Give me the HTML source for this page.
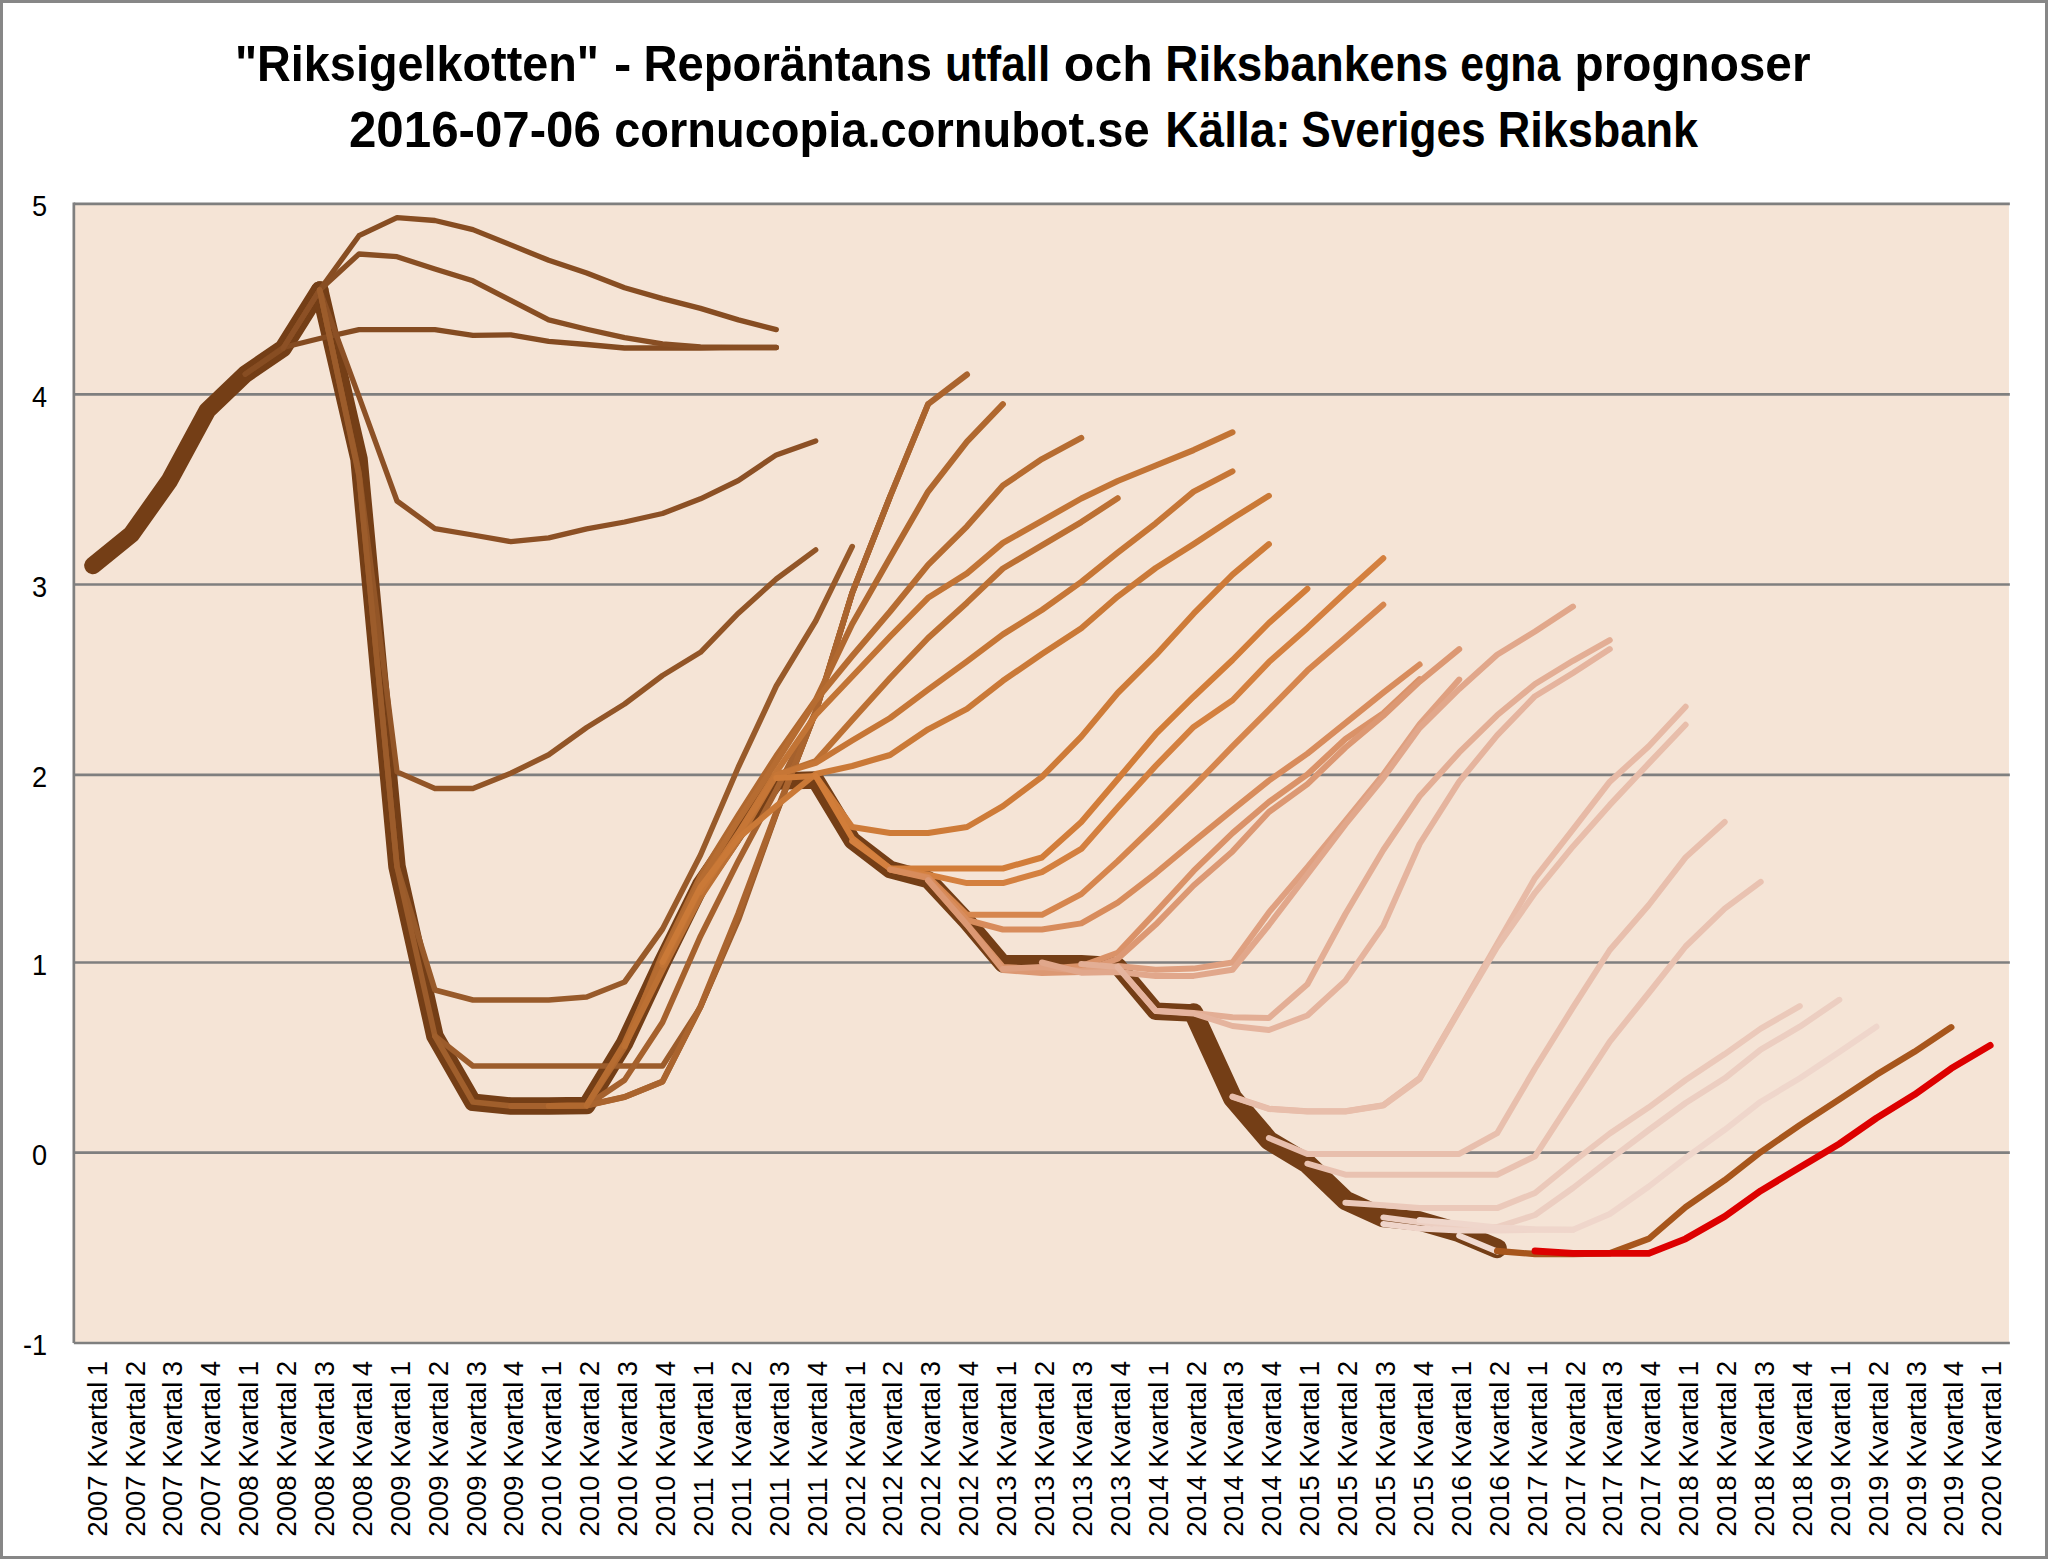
<!DOCTYPE html>
<html><head><meta charset="utf-8"><title>Riksigelkotten</title>
<style>html,body{margin:0;padding:0;background:#fff;}svg{display:block;}text{font-family:"Liberation Sans",sans-serif;}</style>
</head><body>
<svg width="2048" height="1559" viewBox="0 0 2048 1559">
<rect x="0" y="0" width="2048" height="1559" fill="#ffffff"/>
<rect x="1.5" y="1.5" width="2045" height="1556" fill="none" stroke="#878787" stroke-width="3"/>
<rect x="73.85" y="203.85" width="1935.1000000000001" height="1139.15" fill="#F5E4D6"/>
<line x1="73.85" y1="203.85" x2="2009.85" y2="203.85" stroke="#7F7F7F" stroke-width="2.7"/>
<line x1="73.85" y1="394.45" x2="2009.85" y2="394.45" stroke="#7F7F7F" stroke-width="2.7"/>
<line x1="73.85" y1="584.5" x2="2009.85" y2="584.5" stroke="#7F7F7F" stroke-width="2.7"/>
<line x1="73.85" y1="774.9" x2="2009.85" y2="774.9" stroke="#7F7F7F" stroke-width="2.7"/>
<line x1="73.85" y1="962.5" x2="2009.85" y2="962.5" stroke="#7F7F7F" stroke-width="2.7"/>
<line x1="73.85" y1="1152.6" x2="2009.85" y2="1152.6" stroke="#7F7F7F" stroke-width="2.7"/>
<line x1="73.85" y1="1343.0" x2="2009.85" y2="1343.0" stroke="#7F7F7F" stroke-width="2.7"/>
<line x1="73.85" y1="202.5" x2="73.85" y2="1343.0" stroke="#7F7F7F" stroke-width="2.7"/>
<g fill="none" stroke-linecap="round" stroke-linejoin="round">
<polyline points="92.9,565.5 131.4,534.3 169.4,480.6 207.3,410.5 245.2,374.2 283.2,348.2 319.7,290.0" stroke="#743E16" stroke-width="17.5"/>
<polyline points="319.7,290.0 359.0,459.0 397.0,866.5 434.9,1036.0 472.9,1102.3 510.8,1106.0 548.7,1106.0 586.7,1105.5 624.6,1043.0 662.5,962.0 700.5,885.0 738.4,830.0 776.3,781.0 815.7,780.0 852.2,840.5 890.1,869.5 928.1,879.6 967.0,921.3 1002.9,963.8 1041.9,963.8 1081.3,963.8 1117.7,966.0 1155.7,1011.3 1193.6,1013.0" stroke="#743E16" stroke-width="17.5"/>
<polyline points="1193.6,1013.0 1232.5,1097.8 1268.9,1140.5 1307.4,1163.7 1345.4,1200.3 1383.3,1217.6 1419.6,1221.0 1459.2,1232.5 1497.1,1248.5" stroke="#743E16" stroke-width="19.5"/>
<polyline points="245.2,374.2 283.2,347.5 319.7,338.5 359.0,329.6 397.0,329.6 434.9,329.6 472.9,335.3 510.8,334.8 548.7,341.4 586.7,344.5 624.6,348.0 662.5,348.0 700.5,348.0 738.4,347.5 776.3,347.5" stroke="#844B21" stroke-width="5.3"/>
<polyline points="245.2,374.2 283.2,348.2 319.7,290.0 359.0,235.7 397.0,217.6 434.9,220.5 472.9,229.6 510.8,244.9 548.7,260.3 586.7,273.0 624.6,287.7 662.5,298.6 700.5,308.4 738.4,319.9 776.3,329.6" stroke="#874D22" stroke-width="5.3"/>
<polyline points="283.2,348.2 319.7,290.0 359.0,254.0 397.0,256.7 434.9,268.9 472.9,280.8 510.8,300.4 548.7,319.9 586.7,329.2 624.6,337.7 662.5,343.8 700.5,347.0 738.4,347.5 776.3,347.5" stroke="#884E23" stroke-width="5.3"/>
<polyline points="283.2,348.2 319.7,290.0 359.0,396.6 397.0,501.0 434.9,528.6 472.9,535.0 510.8,541.6 548.7,537.9 586.7,528.9 624.6,522.0 662.5,513.5 700.5,498.8 738.4,480.5 776.3,454.9 815.7,441.0" stroke="#8C5025" stroke-width="5.3"/>
<polyline points="319.7,290.0 359.0,472.0 397.0,771.9 434.9,788.5 472.9,788.5 510.8,773.2 548.7,754.8 586.7,727.5 624.6,704.0 662.5,675.5 700.5,652.3 738.4,613.2 776.3,579.0 815.7,549.8" stroke="#925527" stroke-width="5.4"/>
<polyline points="319.7,290.0 359.0,474.0 397.0,866.5 434.9,990.0 472.9,1000.0 510.8,1000.0 548.7,1000.0 586.7,997.0 624.6,982.0 662.5,929.0 700.5,855.0 738.4,767.0 776.3,686.0 815.7,621.0 852.2,546.6" stroke="#985A2A" stroke-width="5.6"/>
<polyline points="319.7,290.0 359.0,476.0 397.0,866.5 434.9,1036.0 472.9,1066.0 510.8,1066.0 548.7,1066.0 586.7,1066.0 624.6,1066.0 662.5,1066.0 700.5,1007.0 738.4,920.0 776.3,814.0 815.7,712.0 852.2,593.0" stroke="#9C5C2B" stroke-width="5.6"/>
<polyline points="434.9,1036.0 472.9,1102.0 510.8,1106.0 548.7,1106.0 586.7,1105.5 624.6,1097.0 662.5,1081.5 700.5,1007.0 738.4,917.0 776.3,813.0 815.7,712.0 852.2,593.0 890.1,496.5" stroke="#A05F2C" stroke-width="5.7"/>
<polyline points="510.8,1106.0 548.7,1106.0 586.7,1105.5 624.6,1080.0 662.5,1022.4 700.5,936.2 738.4,860.8 776.3,790.0 815.7,712.0 852.2,593.0 890.1,496.5 928.1,404.2" stroke="#A5612D" stroke-width="5.8"/>
<polyline points="548.7,1106.0 586.7,1105.5 624.6,1097.0 662.5,1081.7 700.5,1006.3 738.4,913.4 776.3,812.0 815.7,711.6 852.2,592.9 890.1,496.5 928.1,404.2 967.0,374.5" stroke="#AA642E" stroke-width="6.0"/>
<polyline points="548.7,1106.0 586.7,1105.5 624.6,1047.0 662.5,954.0 700.5,876.0 738.4,815.0 776.3,756.0 815.7,700.0 852.2,624.0 890.1,557.5 928.1,491.6 967.0,441.6 1002.9,404.2" stroke="#B0682F" stroke-width="6.0"/>
<polyline points="586.7,1105.5 624.6,1043.0 662.5,958.0 700.5,881.0 738.4,820.0 776.3,762.0 815.7,700.5 852.2,656.0 890.1,611.5 928.1,564.8 967.0,526.3 1002.9,485.5 1041.9,459.1 1081.3,437.9" stroke="#B66C31" stroke-width="6.0"/>
<polyline points="624.6,1046.0 662.5,970.0 700.5,897.0 738.4,840.0 776.3,775.0 815.7,761.0 852.2,720.0 890.1,678.0 928.1,638.0 967.0,602.7 1002.9,568.5 1041.9,545.3 1081.3,522.1 1117.7,498.2" stroke="#BC7033" stroke-width="6.0"/>
<polyline points="662.5,965.0 700.5,889.0 738.4,833.0 776.3,772.0 815.7,715.0 852.2,676.5 890.1,636.5 928.1,597.8 967.0,573.4 1002.9,542.9 1041.9,520.9 1081.3,498.5 1117.7,481.0 1155.7,465.5 1193.6,450.1 1232.5,432.3" stroke="#C27435" stroke-width="6.0"/>
<polyline points="700.5,892.0 738.4,834.0 776.3,775.0 815.7,763.0 852.2,740.5 890.1,718.0 928.1,689.7 967.0,661.3 1002.9,634.4 1041.9,610.0 1081.3,581.9 1117.7,552.6 1155.7,523.3 1193.6,491.6 1232.5,471.3" stroke="#C67636" stroke-width="6.0"/>
<polyline points="662.5,962.0 700.5,887.0 738.4,838.0 776.3,806.0 815.7,774.0 852.2,766.0 890.1,755.0 928.1,729.3 967.0,708.9 1002.9,680.8 1041.9,654.0 1081.3,628.3 1117.7,596.6 1155.7,568.0 1193.6,544.1 1232.5,518.5 1268.9,495.8" stroke="#CA7937" stroke-width="6.0"/>
<polyline points="776.3,778.0 815.7,776.0 852.2,827.0 890.1,833.0 928.1,833.0 967.0,827.0 1002.9,806.2 1041.9,776.9 1081.3,736.6 1117.7,693.0 1155.7,655.2 1193.6,613.7 1232.5,574.6 1268.9,544.1" stroke="#CE7B38" stroke-width="6.0"/>
<polyline points="815.7,776.0 852.2,838.0 890.1,868.5 928.1,868.5 967.0,868.5 1002.9,868.5 1041.9,857.5 1081.3,822.0 1117.7,779.3 1155.7,734.2 1193.6,696.7 1232.5,660.0 1268.9,623.0 1307.4,588.8" stroke="#D27D39" stroke-width="6.0"/>
<polyline points="852.2,841.0 890.1,868.5 928.1,874.6 967.0,883.1 1002.9,883.1 1041.9,872.1 1081.3,848.9 1117.7,807.4 1155.7,765.9 1193.6,726.9 1232.5,700.3 1268.9,662.1 1307.4,627.9 1345.4,592.5 1383.3,558.3" stroke="#D4803F" stroke-width="6.0"/>
<polyline points="890.1,869.5 928.1,877.0 967.0,914.8 1002.9,914.8 1041.9,914.8 1081.3,894.1 1117.7,861.1 1155.7,824.5 1193.6,786.7 1232.5,746.4 1268.9,709.8 1307.4,670.6 1345.4,637.7 1383.3,604.7" stroke="#D6864E" stroke-width="6.0"/>
<polyline points="890.1,869.5 928.1,878.0 967.0,920.0 1002.9,929.5 1041.9,929.5 1081.3,923.4 1117.7,902.6 1155.7,873.3 1193.6,841.6 1232.5,809.9 1268.9,780.6 1307.4,753.6 1345.4,723.1 1383.3,692.6 1419.6,664.5" stroke="#D88C5C" stroke-width="6.0"/>
<polyline points="928.1,880.0 967.0,924.5 1002.9,967.0 1041.9,969.0 1081.3,966.0 1117.7,952.7 1155.7,912.4 1193.6,870.9 1232.5,833.1 1268.9,802.0 1307.4,774.4 1345.4,739.0 1383.3,713.3 1419.6,679.2" stroke="#DA9268" stroke-width="6.0"/>
<polyline points="928.1,880.5 967.0,925.0 1002.9,970.0 1041.9,973.0 1081.3,972.0 1117.7,958.8 1155.7,924.6 1193.6,885.5 1232.5,851.4 1268.9,812.0 1307.4,784.1 1345.4,747.5 1383.3,715.8 1419.6,681.6 1459.2,649.1" stroke="#DC9873" stroke-width="6.0"/>
<polyline points="1002.9,969.0 1041.9,967.0 1081.3,971.0 1117.7,966.1 1155.7,969.8 1193.6,968.6 1232.5,962.5 1268.9,912.4 1307.4,867.1 1345.4,820.8 1383.3,774.4 1419.6,724.3 1459.2,679.6" stroke="#DFA080" stroke-width="6.0"/>
<polyline points="1041.9,962.5 1081.3,972.7 1117.7,972.0 1155.7,975.9 1193.6,975.9 1232.5,969.8 1268.9,925.0 1307.4,874.5 1345.4,824.4 1383.3,778.0 1419.6,728.0 1459.2,688.9 1497.1,654.7 1535.0,631.5 1573.0,606.6" stroke="#E1A78B" stroke-width="6.0"/>
<polyline points="1081.3,964.0 1117.7,966.9 1155.7,1010.8 1193.6,1013.0 1232.5,1017.3 1268.9,1018.0 1307.4,984.3 1345.4,914.0 1383.3,850.0 1419.6,796.3 1459.2,752.4 1497.1,715.3 1535.0,684.0 1573.0,660.8 1609.8,640.1" stroke="#E3AE95" stroke-width="6.0"/>
<polyline points="1117.7,967.0 1155.7,1011.0 1193.6,1013.5 1232.5,1026.0 1268.9,1030.0 1307.4,1015.5 1345.4,980.6 1383.3,926.0 1419.6,844.0 1459.2,781.7 1497.1,735.3 1535.0,696.2 1573.0,673.0 1609.8,649.1" stroke="#E5B49E" stroke-width="6.0"/>
<polyline points="1232.5,1096.5 1268.9,1108.7 1307.4,1111.2 1345.4,1111.2 1383.3,1105.1 1419.6,1078.2 1459.2,1009.9 1497.1,944.0 1535.0,878.1 1573.0,829.3 1609.8,781.7 1648.8,746.3 1685.6,706.7" stroke="#E7BAA6" stroke-width="6.0"/>
<polyline points="1232.5,1097.0 1268.9,1109.0 1307.4,1111.5 1345.4,1111.5 1383.3,1105.5 1419.6,1079.0 1459.2,1011.0 1497.1,947.0 1535.0,892.8 1573.0,846.4 1609.8,804.9 1648.8,763.4 1685.6,724.8" stroke="#E8BEAB" stroke-width="6.0"/>
<polyline points="1268.9,1138.0 1307.4,1153.9 1345.4,1153.9 1383.3,1153.9 1419.6,1153.9 1459.2,1153.9 1497.1,1133.2 1535.0,1068.5 1573.0,1007.4 1609.8,950.0 1648.8,905.0 1685.6,857.4 1724.7,822.0" stroke="#E8BFAD" stroke-width="6.0"/>
<polyline points="1307.4,1163.7 1345.4,1174.7 1383.3,1174.7 1419.6,1174.7 1459.2,1174.7 1497.1,1174.7 1535.0,1156.3 1573.0,1097.8 1609.8,1041.6 1648.8,993.0 1685.6,946.5 1724.7,908.7 1760.7,881.8" stroke="#E9C2B1" stroke-width="6.0"/>
<polyline points="1345.4,1202.7 1383.3,1205.2 1419.6,1208.1 1459.2,1208.1 1497.1,1208.1 1535.0,1193.0 1573.0,1162.0 1609.8,1133.5 1648.8,1107.3 1685.6,1080.0 1724.7,1054.1 1760.7,1028.6 1799.8,1006.1" stroke="#EBC9BA" stroke-width="6.0"/>
<polyline points="1383.3,1217.4 1419.6,1222.3 1459.2,1227.1 1497.1,1227.1 1535.0,1215.0 1573.0,1188.0 1609.8,1159.5 1648.8,1130.0 1685.6,1103.0 1724.7,1078.3 1760.7,1049.7 1799.8,1026.7 1839.3,999.8" stroke="#ECCEC1" stroke-width="6.0"/>
<polyline points="1383.3,1224.0 1419.6,1228.6 1459.2,1230.5 1497.1,1230.5 1535.0,1229.8 1573.0,1229.8" stroke="#EFD5CA" stroke-width="6.0"/>
<polyline points="1419.6,1220.0 1459.2,1223.5 1497.1,1227.4 1535.0,1229.2 1573.0,1229.8 1609.8,1214.0 1648.8,1186.5 1685.6,1158.0 1724.7,1129.8 1760.7,1101.7 1799.8,1078.3 1839.3,1052.0 1876.4,1026.7" stroke="#EFD6CB" stroke-width="6.0"/>
<polyline points="1459.2,1235.7 1497.1,1251.6" stroke="#F1DAD0" stroke-width="6.0"/>
<polyline points="1497.1,1251.0 1535.0,1254.0 1573.0,1254.0 1609.8,1253.3 1648.8,1238.8 1685.6,1207.2 1724.7,1180.2 1760.7,1152.1 1799.8,1125.1 1839.3,1099.4 1876.4,1074.8 1914.4,1051.8 1951.3,1027.2" stroke="#A7561C" stroke-width="6.3"/>
<polyline points="1535.0,1251.0 1573.0,1253.3 1609.8,1253.3 1648.8,1253.3 1685.6,1238.8 1724.7,1216.5 1760.7,1190.8 1799.8,1167.3 1839.3,1143.9 1876.4,1118.1 1914.4,1094.7 1951.3,1068.4 1990.2,1045.4" stroke="#DD0000" stroke-width="6.8"/>
</g>
<text x="47.2" y="216.0" font-size="28.6" text-anchor="end" transform="translate(47.2 0) scale(0.95 1) translate(-47.2 0)">5</text>
<text x="47.2" y="406.6" font-size="28.6" text-anchor="end" transform="translate(47.2 0) scale(0.95 1) translate(-47.2 0)">4</text>
<text x="47.2" y="596.7" font-size="28.6" text-anchor="end" transform="translate(47.2 0) scale(0.95 1) translate(-47.2 0)">3</text>
<text x="47.2" y="787.1" font-size="28.6" text-anchor="end" transform="translate(47.2 0) scale(0.95 1) translate(-47.2 0)">2</text>
<text x="47.2" y="974.7" font-size="28.6" text-anchor="end" transform="translate(47.2 0) scale(0.95 1) translate(-47.2 0)">1</text>
<text x="47.2" y="1164.8" font-size="28.6" text-anchor="end" transform="translate(47.2 0) scale(0.95 1) translate(-47.2 0)">0</text>
<text x="47.2" y="1355.2" font-size="28.6" text-anchor="end" transform="translate(47.2 0) scale(0.95 1) translate(-47.2 0)">-1</text>
<g transform="translate(106.6 1535.6) rotate(-90)" font-size="28.4"><text transform="translate(-1.1 0) scale(0.972 1)">2007</text><text transform="translate(67.9 0) scale(0.974 1)">Kvartal</text><text transform="translate(159.35 0) scale(0.97 1)">1</text></g>
<g transform="translate(144.5 1535.6) rotate(-90)" font-size="28.4"><text transform="translate(-1.1 0) scale(0.972 1)">2007</text><text transform="translate(67.9 0) scale(0.974 1)">Kvartal</text><text transform="translate(159.35 0) scale(0.97 1)">2</text></g>
<g transform="translate(182.4 1535.6) rotate(-90)" font-size="28.4"><text transform="translate(-1.1 0) scale(0.972 1)">2007</text><text transform="translate(67.9 0) scale(0.974 1)">Kvartal</text><text transform="translate(159.35 0) scale(0.97 1)">3</text></g>
<g transform="translate(220.3 1535.6) rotate(-90)" font-size="28.4"><text transform="translate(-1.1 0) scale(0.972 1)">2007</text><text transform="translate(67.9 0) scale(0.974 1)">Kvartal</text><text transform="translate(159.35 0) scale(0.97 1)">4</text></g>
<g transform="translate(258.2 1535.6) rotate(-90)" font-size="28.4"><text transform="translate(-1.1 0) scale(0.972 1)">2008</text><text transform="translate(67.9 0) scale(0.974 1)">Kvartal</text><text transform="translate(159.35 0) scale(0.97 1)">1</text></g>
<g transform="translate(296.1 1535.6) rotate(-90)" font-size="28.4"><text transform="translate(-1.1 0) scale(0.972 1)">2008</text><text transform="translate(67.9 0) scale(0.974 1)">Kvartal</text><text transform="translate(159.35 0) scale(0.97 1)">2</text></g>
<g transform="translate(334.0 1535.6) rotate(-90)" font-size="28.4"><text transform="translate(-1.1 0) scale(0.972 1)">2008</text><text transform="translate(67.9 0) scale(0.974 1)">Kvartal</text><text transform="translate(159.35 0) scale(0.97 1)">3</text></g>
<g transform="translate(371.9 1535.6) rotate(-90)" font-size="28.4"><text transform="translate(-1.1 0) scale(0.972 1)">2008</text><text transform="translate(67.9 0) scale(0.974 1)">Kvartal</text><text transform="translate(159.35 0) scale(0.97 1)">4</text></g>
<g transform="translate(409.8 1535.6) rotate(-90)" font-size="28.4"><text transform="translate(-1.1 0) scale(0.972 1)">2009</text><text transform="translate(67.9 0) scale(0.974 1)">Kvartal</text><text transform="translate(159.35 0) scale(0.97 1)">1</text></g>
<g transform="translate(447.6 1535.6) rotate(-90)" font-size="28.4"><text transform="translate(-1.1 0) scale(0.972 1)">2009</text><text transform="translate(67.9 0) scale(0.974 1)">Kvartal</text><text transform="translate(159.35 0) scale(0.97 1)">2</text></g>
<g transform="translate(485.5 1535.6) rotate(-90)" font-size="28.4"><text transform="translate(-1.1 0) scale(0.972 1)">2009</text><text transform="translate(67.9 0) scale(0.974 1)">Kvartal</text><text transform="translate(159.35 0) scale(0.97 1)">3</text></g>
<g transform="translate(523.4 1535.6) rotate(-90)" font-size="28.4"><text transform="translate(-1.1 0) scale(0.972 1)">2009</text><text transform="translate(67.9 0) scale(0.974 1)">Kvartal</text><text transform="translate(159.35 0) scale(0.97 1)">4</text></g>
<g transform="translate(561.3 1535.6) rotate(-90)" font-size="28.4"><text transform="translate(-1.1 0) scale(0.972 1)">2010</text><text transform="translate(67.9 0) scale(0.974 1)">Kvartal</text><text transform="translate(159.35 0) scale(0.97 1)">1</text></g>
<g transform="translate(599.2 1535.6) rotate(-90)" font-size="28.4"><text transform="translate(-1.1 0) scale(0.972 1)">2010</text><text transform="translate(67.9 0) scale(0.974 1)">Kvartal</text><text transform="translate(159.35 0) scale(0.97 1)">2</text></g>
<g transform="translate(637.1 1535.6) rotate(-90)" font-size="28.4"><text transform="translate(-1.1 0) scale(0.972 1)">2010</text><text transform="translate(67.9 0) scale(0.974 1)">Kvartal</text><text transform="translate(159.35 0) scale(0.97 1)">3</text></g>
<g transform="translate(675.0 1535.6) rotate(-90)" font-size="28.4"><text transform="translate(-1.1 0) scale(0.972 1)">2010</text><text transform="translate(67.9 0) scale(0.974 1)">Kvartal</text><text transform="translate(159.35 0) scale(0.97 1)">4</text></g>
<g transform="translate(712.9 1535.6) rotate(-90)" font-size="28.4"><text transform="translate(-1.1 0) scale(0.972 1)">2011</text><text transform="translate(67.9 0) scale(0.974 1)">Kvartal</text><text transform="translate(159.35 0) scale(0.97 1)">1</text></g>
<g transform="translate(750.8 1535.6) rotate(-90)" font-size="28.4"><text transform="translate(-1.1 0) scale(0.972 1)">2011</text><text transform="translate(67.9 0) scale(0.974 1)">Kvartal</text><text transform="translate(159.35 0) scale(0.97 1)">2</text></g>
<g transform="translate(788.7 1535.6) rotate(-90)" font-size="28.4"><text transform="translate(-1.1 0) scale(0.972 1)">2011</text><text transform="translate(67.9 0) scale(0.974 1)">Kvartal</text><text transform="translate(159.35 0) scale(0.97 1)">3</text></g>
<g transform="translate(826.6 1535.6) rotate(-90)" font-size="28.4"><text transform="translate(-1.1 0) scale(0.972 1)">2011</text><text transform="translate(67.9 0) scale(0.974 1)">Kvartal</text><text transform="translate(159.35 0) scale(0.97 1)">4</text></g>
<g transform="translate(864.5 1535.6) rotate(-90)" font-size="28.4"><text transform="translate(-1.1 0) scale(0.972 1)">2012</text><text transform="translate(67.9 0) scale(0.974 1)">Kvartal</text><text transform="translate(159.35 0) scale(0.97 1)">1</text></g>
<g transform="translate(902.4 1535.6) rotate(-90)" font-size="28.4"><text transform="translate(-1.1 0) scale(0.972 1)">2012</text><text transform="translate(67.9 0) scale(0.974 1)">Kvartal</text><text transform="translate(159.35 0) scale(0.97 1)">2</text></g>
<g transform="translate(940.3 1535.6) rotate(-90)" font-size="28.4"><text transform="translate(-1.1 0) scale(0.972 1)">2012</text><text transform="translate(67.9 0) scale(0.974 1)">Kvartal</text><text transform="translate(159.35 0) scale(0.97 1)">3</text></g>
<g transform="translate(978.2 1535.6) rotate(-90)" font-size="28.4"><text transform="translate(-1.1 0) scale(0.972 1)">2012</text><text transform="translate(67.9 0) scale(0.974 1)">Kvartal</text><text transform="translate(159.35 0) scale(0.97 1)">4</text></g>
<g transform="translate(1016.1 1535.6) rotate(-90)" font-size="28.4"><text transform="translate(-1.1 0) scale(0.972 1)">2013</text><text transform="translate(67.9 0) scale(0.974 1)">Kvartal</text><text transform="translate(159.35 0) scale(0.97 1)">1</text></g>
<g transform="translate(1053.9 1535.6) rotate(-90)" font-size="28.4"><text transform="translate(-1.1 0) scale(0.972 1)">2013</text><text transform="translate(67.9 0) scale(0.974 1)">Kvartal</text><text transform="translate(159.35 0) scale(0.97 1)">2</text></g>
<g transform="translate(1091.8 1535.6) rotate(-90)" font-size="28.4"><text transform="translate(-1.1 0) scale(0.972 1)">2013</text><text transform="translate(67.9 0) scale(0.974 1)">Kvartal</text><text transform="translate(159.35 0) scale(0.97 1)">3</text></g>
<g transform="translate(1129.7 1535.6) rotate(-90)" font-size="28.4"><text transform="translate(-1.1 0) scale(0.972 1)">2013</text><text transform="translate(67.9 0) scale(0.974 1)">Kvartal</text><text transform="translate(159.35 0) scale(0.97 1)">4</text></g>
<g transform="translate(1167.6 1535.6) rotate(-90)" font-size="28.4"><text transform="translate(-1.1 0) scale(0.972 1)">2014</text><text transform="translate(67.9 0) scale(0.974 1)">Kvartal</text><text transform="translate(159.35 0) scale(0.97 1)">1</text></g>
<g transform="translate(1205.5 1535.6) rotate(-90)" font-size="28.4"><text transform="translate(-1.1 0) scale(0.972 1)">2014</text><text transform="translate(67.9 0) scale(0.974 1)">Kvartal</text><text transform="translate(159.35 0) scale(0.97 1)">2</text></g>
<g transform="translate(1243.4 1535.6) rotate(-90)" font-size="28.4"><text transform="translate(-1.1 0) scale(0.972 1)">2014</text><text transform="translate(67.9 0) scale(0.974 1)">Kvartal</text><text transform="translate(159.35 0) scale(0.97 1)">3</text></g>
<g transform="translate(1281.3 1535.6) rotate(-90)" font-size="28.4"><text transform="translate(-1.1 0) scale(0.972 1)">2014</text><text transform="translate(67.9 0) scale(0.974 1)">Kvartal</text><text transform="translate(159.35 0) scale(0.97 1)">4</text></g>
<g transform="translate(1319.2 1535.6) rotate(-90)" font-size="28.4"><text transform="translate(-1.1 0) scale(0.972 1)">2015</text><text transform="translate(67.9 0) scale(0.974 1)">Kvartal</text><text transform="translate(159.35 0) scale(0.97 1)">1</text></g>
<g transform="translate(1357.1 1535.6) rotate(-90)" font-size="28.4"><text transform="translate(-1.1 0) scale(0.972 1)">2015</text><text transform="translate(67.9 0) scale(0.974 1)">Kvartal</text><text transform="translate(159.35 0) scale(0.97 1)">2</text></g>
<g transform="translate(1395.0 1535.6) rotate(-90)" font-size="28.4"><text transform="translate(-1.1 0) scale(0.972 1)">2015</text><text transform="translate(67.9 0) scale(0.974 1)">Kvartal</text><text transform="translate(159.35 0) scale(0.97 1)">3</text></g>
<g transform="translate(1432.9 1535.6) rotate(-90)" font-size="28.4"><text transform="translate(-1.1 0) scale(0.972 1)">2015</text><text transform="translate(67.9 0) scale(0.974 1)">Kvartal</text><text transform="translate(159.35 0) scale(0.97 1)">4</text></g>
<g transform="translate(1470.8 1535.6) rotate(-90)" font-size="28.4"><text transform="translate(-1.1 0) scale(0.972 1)">2016</text><text transform="translate(67.9 0) scale(0.974 1)">Kvartal</text><text transform="translate(159.35 0) scale(0.97 1)">1</text></g>
<g transform="translate(1508.7 1535.6) rotate(-90)" font-size="28.4"><text transform="translate(-1.1 0) scale(0.972 1)">2016</text><text transform="translate(67.9 0) scale(0.974 1)">Kvartal</text><text transform="translate(159.35 0) scale(0.97 1)">2</text></g>
<g transform="translate(1546.6 1535.6) rotate(-90)" font-size="28.4"><text transform="translate(-1.1 0) scale(0.972 1)">2017</text><text transform="translate(67.9 0) scale(0.974 1)">Kvartal</text><text transform="translate(159.35 0) scale(0.97 1)">1</text></g>
<g transform="translate(1584.5 1535.6) rotate(-90)" font-size="28.4"><text transform="translate(-1.1 0) scale(0.972 1)">2017</text><text transform="translate(67.9 0) scale(0.974 1)">Kvartal</text><text transform="translate(159.35 0) scale(0.97 1)">2</text></g>
<g transform="translate(1622.4 1535.6) rotate(-90)" font-size="28.4"><text transform="translate(-1.1 0) scale(0.972 1)">2017</text><text transform="translate(67.9 0) scale(0.974 1)">Kvartal</text><text transform="translate(159.35 0) scale(0.97 1)">3</text></g>
<g transform="translate(1660.3 1535.6) rotate(-90)" font-size="28.4"><text transform="translate(-1.1 0) scale(0.972 1)">2017</text><text transform="translate(67.9 0) scale(0.974 1)">Kvartal</text><text transform="translate(159.35 0) scale(0.97 1)">4</text></g>
<g transform="translate(1698.1 1535.6) rotate(-90)" font-size="28.4"><text transform="translate(-1.1 0) scale(0.972 1)">2018</text><text transform="translate(67.9 0) scale(0.974 1)">Kvartal</text><text transform="translate(159.35 0) scale(0.97 1)">1</text></g>
<g transform="translate(1736.0 1535.6) rotate(-90)" font-size="28.4"><text transform="translate(-1.1 0) scale(0.972 1)">2018</text><text transform="translate(67.9 0) scale(0.974 1)">Kvartal</text><text transform="translate(159.35 0) scale(0.97 1)">2</text></g>
<g transform="translate(1773.9 1535.6) rotate(-90)" font-size="28.4"><text transform="translate(-1.1 0) scale(0.972 1)">2018</text><text transform="translate(67.9 0) scale(0.974 1)">Kvartal</text><text transform="translate(159.35 0) scale(0.97 1)">3</text></g>
<g transform="translate(1811.8 1535.6) rotate(-90)" font-size="28.4"><text transform="translate(-1.1 0) scale(0.972 1)">2018</text><text transform="translate(67.9 0) scale(0.974 1)">Kvartal</text><text transform="translate(159.35 0) scale(0.97 1)">4</text></g>
<g transform="translate(1849.7 1535.6) rotate(-90)" font-size="28.4"><text transform="translate(-1.1 0) scale(0.972 1)">2019</text><text transform="translate(67.9 0) scale(0.974 1)">Kvartal</text><text transform="translate(159.35 0) scale(0.97 1)">1</text></g>
<g transform="translate(1887.6 1535.6) rotate(-90)" font-size="28.4"><text transform="translate(-1.1 0) scale(0.972 1)">2019</text><text transform="translate(67.9 0) scale(0.974 1)">Kvartal</text><text transform="translate(159.35 0) scale(0.97 1)">2</text></g>
<g transform="translate(1925.5 1535.6) rotate(-90)" font-size="28.4"><text transform="translate(-1.1 0) scale(0.972 1)">2019</text><text transform="translate(67.9 0) scale(0.974 1)">Kvartal</text><text transform="translate(159.35 0) scale(0.97 1)">3</text></g>
<g transform="translate(1963.4 1535.6) rotate(-90)" font-size="28.4"><text transform="translate(-1.1 0) scale(0.972 1)">2019</text><text transform="translate(67.9 0) scale(0.974 1)">Kvartal</text><text transform="translate(159.35 0) scale(0.97 1)">4</text></g>
<g transform="translate(2001.3 1535.6) rotate(-90)" font-size="28.4"><text transform="translate(-1.1 0) scale(0.972 1)">2020</text><text transform="translate(67.9 0) scale(0.974 1)">Kvartal</text><text transform="translate(159.35 0) scale(0.97 1)">1</text></g>
<g font-weight="bold" font-size="50.0">
<text x="234.88" y="80.9" textLength="364.17" lengthAdjust="spacingAndGlyphs">&quot;Riksigelkotten&quot;</text>
<text x="613.98" y="80.9" textLength="17.30" lengthAdjust="spacingAndGlyphs">-</text>
<text x="643.45" y="80.9" textLength="288.46" lengthAdjust="spacingAndGlyphs">Reporäntans</text>
<text x="944.93" y="80.9" textLength="105.27" lengthAdjust="spacingAndGlyphs">utfall</text>
<text x="1063.84" y="80.9" textLength="88.98" lengthAdjust="spacingAndGlyphs">och</text>
<text x="1165.33" y="80.9" textLength="282.82" lengthAdjust="spacingAndGlyphs">Riksbankens</text>
<text x="1460.36" y="80.9" textLength="99.96" lengthAdjust="spacingAndGlyphs">egna</text>
<text x="1574.62" y="80.9" textLength="235.86" lengthAdjust="spacingAndGlyphs">prognoser</text>
<text x="348.96" y="147.3" textLength="251.96" lengthAdjust="spacingAndGlyphs">2016-07-06</text>
<text x="614.13" y="147.3" textLength="535.44" lengthAdjust="spacingAndGlyphs">cornucopia.cornubot.se</text>
<text x="1165.32" y="147.3" textLength="125.40" lengthAdjust="spacingAndGlyphs">Källa:</text>
<text x="1301.21" y="147.3" textLength="184.48" lengthAdjust="spacingAndGlyphs">Sveriges</text>
<text x="1497.68" y="147.3" textLength="200.33" lengthAdjust="spacingAndGlyphs">Riksbank</text>
</g>
</svg>
</body></html>
